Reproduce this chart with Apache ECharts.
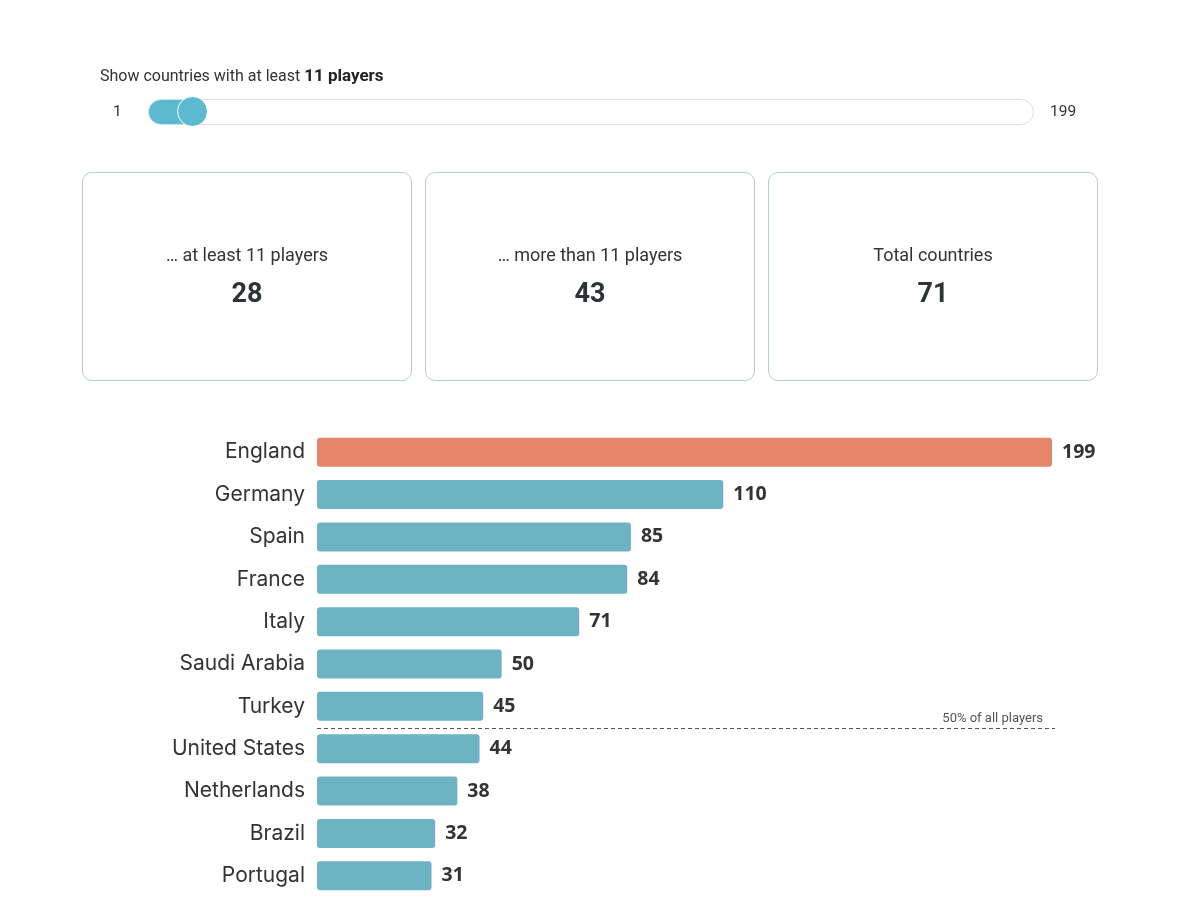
<!DOCTYPE html>
<html>
<head>
<meta charset="utf-8">
<script src="https://cdn.jsdelivr.net/npm/echarts@6/dist/echarts.min.js"></script>
<style>
  html, body { margin: 0; padding: 0; background: #fff; }
  #wrap { position: relative; width: 1200px; height: 900px; overflow: hidden; font-family: Roboto, "Noto Sans", sans-serif; color: #333; }
  #chart { position: absolute; left: 0; top: 0; width: 1200px; height: 900px; }
  .abs { position: absolute; }
  #title { left: 100px; top: 65px; font-size: 16px; color: #333; white-space: nowrap; }
  #title b { font-size: 17px; color: #222; }
  .rng { top: 102px; font-size: 15.5px; color: #333; }
  #track { left: 148px; top: 99px; width: 884px; height: 24px; border: 1px solid #dcdfe2; border-radius: 14px; background: #fff; }
  #fill { left: 149px; top: 100px; width: 46px; height: 24px; border-radius: 13px 0 0 13px; background: #5bbad0; }
  #thumb { left: 177px; top: 96px; width: 31px; height: 31px; border-radius: 50%; background: #5bbad0; border: 1.5px solid #fff; box-sizing: border-box; }
  .card { top: 172px; width: 330px; height: 209px; border: 1px solid #b8ccd4; border-radius: 10px; box-sizing: border-box; }
  .card .lab { position: absolute; left: 0; right: 0; top: 71px; text-align: center; font-size: 18px; color: #333; }
  .card .num { position: absolute; left: 0; right: 0; top: 104px; text-align: center; font-size: 27px; font-weight: bold; color: #2b3538; }
</style>
</head>
<body>
<div id="wrap">
  <div id="chart"></div>
  <div id="ui"></div>
</div>
<script>
// ---- data ----
const threshold = 11;
const sliderMin = 1;
const sliderMax = 199;
const statLabels = ["\u2026 at least 11 players", "\u2026 more than 11 players", "Total countries"];
const statValues = [28, 43, 71];
const countries = ["England", "Germany", "Spain", "France", "Italy", "Saudi Arabia", "Turkey", "United States", "Netherlands", "Brazil", "Portugal"];
const players = [199, 110, 85, 84, 71, 50, 45, 44, 38, 32, 31];
const highlight = "England";
const halfLineAfter = "Turkey";
const halfLineLabel = "50% of all players";

// ---- UI (slider + cards) ----
const ui = document.getElementById('ui');
ui.innerHTML =
  '<div id="title" class="abs">Show countries with at least <b>' + threshold + ' players</b></div>' +
  '<div class="abs rng" style="left:113px">' + sliderMin + '</div>' +
  '<div class="abs rng" style="left:1050px">' + sliderMax + '</div>' +
  '<div id="track" class="abs"></div><div id="fill" class="abs"></div><div id="thumb" class="abs"></div>';
const cardLefts = [82, 425, 768];
statLabels.forEach((l, i) => {
  ui.innerHTML += '<div class="abs card" style="left:' + cardLefts[i] + 'px"><div class="lab">' + l + '</div><div class="num">' + statValues[i] + '</div></div>';
});

// ---- chart ----
const chart = echarts.init(document.getElementById('chart'), null, { renderer: 'canvas' });
const option = {
  animation: false,
  grid: { left: 317, right: 148, top: 431, bottom: 3, containLabel: false },
  xAxis: { type: 'value', min: 0, max: sliderMax, show: false },
  yAxis: {
    type: 'category', inverse: true, data: countries,
    axisLine: { show: false }, axisTick: { show: false }, splitLine: { show: false },
    axisLabel: { margin: 12, fontSize: 21, color: '#333', fontFamily: 'Inter, "Noto Sans", sans-serif' }
  },
  series: [{
    type: 'bar',
    data: players.map((v, i) => ({
      value: v,
      itemStyle: { color: countries[i] === highlight ? '#e5866b' : '#6db3c4' }
    })),
    barWidth: 29,
    itemStyle: { borderRadius: 3 },
    label: {
      show: true, position: 'right', distance: 10,
      fontSize: 19.5, fontWeight: 'bold', color: '#333', fontFamily: '"Noto Sans", sans-serif'
    }
  }]
};
chart.setOption(option);

// dashed 50% line between Turkey and United States, placed via the axis scales
const idx = countries.indexOf(halfLineAfter);
const yA = chart.convertToPixel({ yAxisIndex: 0 }, countries[idx]);
const yB = chart.convertToPixel({ yAxisIndex: 0 }, countries[idx + 1]);
const yMid = Math.round((yA + yB) / 2) + 0.5;
const x0 = chart.convertToPixel({ xAxisIndex: 0 }, 0);
const x1 = chart.convertToPixel({ xAxisIndex: 0 }, sliderMax);
chart.setOption({
  graphic: [
    { type: 'line', shape: { x1: x0, y1: yMid, x2: x1 + 3, y2: yMid }, style: { stroke: '#555', lineWidth: 1, lineDash: [4, 3] }, silent: true },
    { type: 'text', x: x1 - 9, y: yMid - 3, style: { text: halfLineLabel, align: 'right', verticalAlign: 'bottom', fontSize: 13, fill: '#555', fontFamily: 'Roboto, sans-serif' }, silent: true }
  ]
});
</script>
</body>
</html>
